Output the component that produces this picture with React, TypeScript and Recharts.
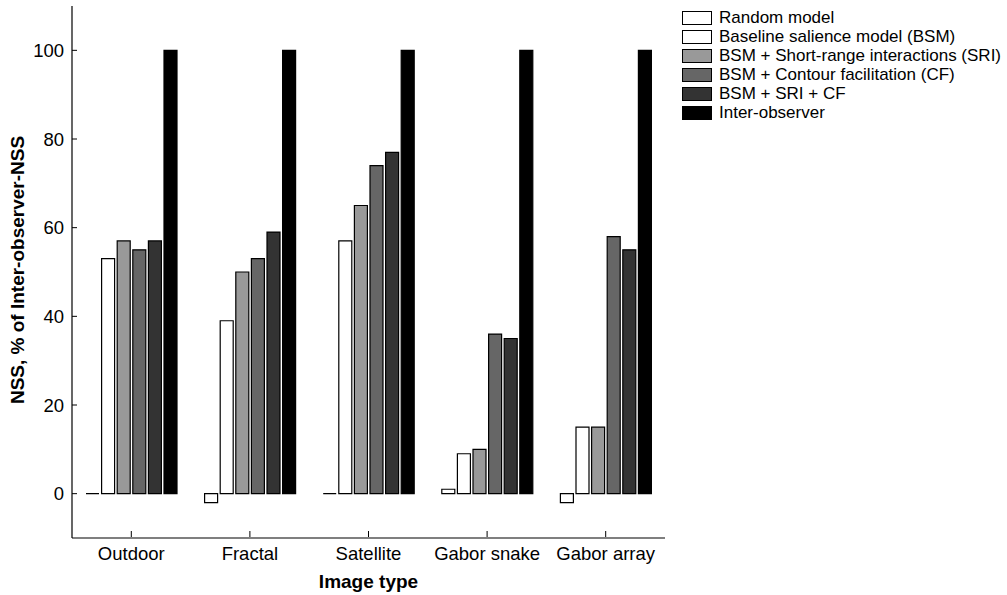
import React from 'react';
import { BarChart, Bar, XAxis, YAxis, Legend, Label } from 'recharts';

const categories = ['Outdoor', 'Fractal', 'Satellite', 'Gabor snake', 'Gabor array'];
const randomModel = [0, -2, 0, 1, -2];
const bsm = [53, 39, 57, 9, 15];
const bsmSri = [57, 50, 65, 10, 15];
const bsmCf = [55, 53, 74, 36, 58];
const bsmSriCf = [57, 59, 77, 35, 55];
const interObserver = [100, 100, 100, 100, 100];
const yTicks = [0, 20, 40, 60, 80, 100];

const seriesNames = [
  'Random model',
  'Baseline salience model (BSM)',
  'BSM + Short-range interactions (SRI)',
  'BSM + Contour facilitation (CF)',
  'BSM + SRI + CF',
  'Inter-observer',
];
const seriesKeys = ['random', 'bsm', 'sri', 'cf', 'sricf', 'io'];
const seriesColors = ['#ffffff', '#ffffff', '#999999', '#666666', '#333333', '#000000'];

const data = categories.map((c, i) => ({
  category: c,
  random: randomModel[i],
  bsm: bsm[i],
  sri: bsmSri[i],
  cf: bsmCf[i],
  sricf: bsmSriCf[i],
  io: interObserver[i],
}));

const FONT = '"Liberation Sans", Arial, Helvetica, sans-serif';
const TICK_FS = 18.5;
const TITLE_FS = 19;

const BarShape = (props: any) => {
  const { x, y, width, height, fill } = props;
  if (x == null || y == null || width == null) return null;
  const h = height || 0;
  const d = `M${x},${y}h${width}v${h}h${-width}Z`;
  return <path d={d} fill={fill} stroke="#000" strokeWidth={1.2} />;
};

const YTick = (props: any) => {
  const { x, y, payload } = props;
  return (
    <g>
      <line x1={x + 8} x2={x + 13} y1={y} y2={y} stroke="#000" strokeWidth={1} />
      <text x={x} y={y} dy="0.36em" textAnchor="end" fontSize={TICK_FS} fontFamily={FONT} fill="#000">
        {payload.value}
      </text>
    </g>
  );
};

const XTick = (props: any) => {
  const { x, y, payload } = props;
  return (
    <g>
      <line x1={x} x2={x} y1={y - 10} y2={y - 16} stroke="#000" strokeWidth={1} />
      <text x={x} y={y} dy="0.71em" textAnchor="middle" fontSize={TICK_FS} fontFamily={FONT} fill="#000">
        {payload.value}
      </text>
    </g>
  );
};

const LegendContent = () => (
  <div style={{ fontFamily: FONT, fontSize: 17, color: '#000' }}>
    {seriesNames.map((n, i) => (
      <div key={n} style={{ display: 'flex', alignItems: 'center', height: 19, whiteSpace: 'nowrap' }}>
        <span
          style={{
            display: 'inline-block',
            boxSizing: 'border-box',
            width: 30,
            height: 14,
            border: '1.3px solid #000',
            background: seriesColors[i],
            marginRight: 7,
          }}
        />
        <span>{n}</span>
      </div>
    ))}
  </div>
);

export default function App() {
  return (
    <div style={{ position: 'absolute', left: 0, top: 0, background: '#fff' }}>
      <BarChart
        width={1007}
        height={595}
        data={data}
        margin={{ top: 6, right: 342, bottom: 0, left: 0 }}
        barSize={13}
        barGap={2.6}
      >
        <XAxis
          dataKey="category"
          height={57}
          tickLine={false}
          tickSize={0}
          tickMargin={9}
          axisLine={{ stroke: '#000', strokeWidth: 1.2 }}
          tick={<XTick />}
          interval={0}
        >
          <Label
            value="Image type"
            position="insideBottom"
            offset={7}
            style={{ fontFamily: FONT, fontSize: TITLE_FS, fontWeight: 'bold', fill: '#000' }}
          />
        </XAxis>
        <YAxis
          width={72}
          domain={[-10, 110]}
          ticks={yTicks}
          allowDataOverflow
          tickLine={false}
          tickSize={0}
          tickMargin={8}
          axisLine={{ stroke: '#000', strokeWidth: 1.2 }}
          tick={<YTick />}
        >
          <Label
            content={() => (
              <text
                x={24}
                y={270}
                transform="rotate(-90, 24, 270)"
                textAnchor="middle"
                fontFamily={FONT}
                fontSize={TITLE_FS}
                fontWeight="bold"
                fill="#000"
              >
                NSS, % of Inter-observer-NSS
              </text>
            )}
          />
        </YAxis>
        <Legend
          layout="vertical"
          align="center"
          verticalAlign="middle"
          content={<LegendContent />}
          wrapperStyle={{ left: 682, top: 8, width: 325, height: 120 }}
        />
        {seriesKeys.map((k, i) => (
          <Bar
            key={k}
            dataKey={k}
            name={seriesNames[i]}
            fill={seriesColors[i]}
            shape={<BarShape />}
            isAnimationActive={false}
          />
        ))}
      </BarChart>
    </div>
  );
}
